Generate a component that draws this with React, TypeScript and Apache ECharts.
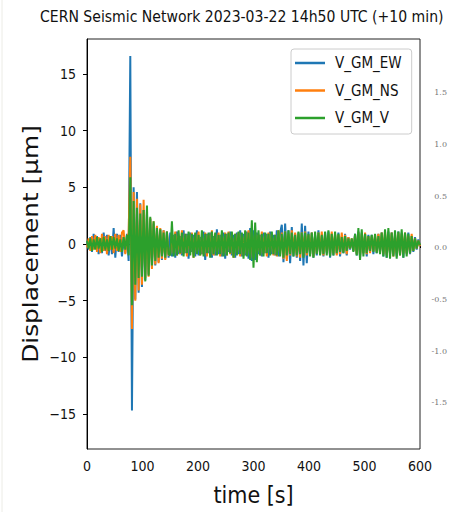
import React, { useEffect, useRef } from 'react';
import * as echarts from 'echarts';

const TITLE = 'CERN Seismic Network 2023-03-22 14h50 UTC (+10 min)';
const X_LABEL = 'time [s]';
const Y_LABEL = 'Displacement [μm]';
const SERIES_NAMES = ['V_GM_EW', 'V_GM_NS', 'V_GM_V'];
const COLORS = ['#1f77b4', '#ff7f0e', '#2ca02c'];
const SAMPLE_STEP_S = 3; // one reading every 3 s
const X_MIN = 0;
const X_MAX = 600;
const X_INTERVAL = 100;
const Y_MIN = -18.1;
const Y_MAX = 18.1;
// tick labels of the neighbouring (clipped) panel on the right
const SIDE_MIN = -2;
const SIDE_MAX = 2;
const SIDE_INTERVAL = 0.5;

const ew = [
  0.2, -0.5, 0.6, -0.7, 0.9, -0.4, 0.7, -0.9, 0.5, -0.8, 1.0, -0.6, 0.8, -1.0, 0.6, -0.9, 1.4, -1.2, 0.9, -0.7, 0.8, -1.1, 0.6, -0.8, 0.9,
  -1.5, 16.6, -14.7, 5.0, -4.9, 4.6, -4.3, 3.6, -3.8, 3.0, -3.2, 2.6, -2.7, 2.2, -2.1, 1.8, -1.9, 1.5, -1.6, 1.3, -1.4, 1.2, -1.3, 1.1, -1.2,
  1.0, -1.1, 0.8, -1.2, 1.1, -0.9, 0.7, -1.0, 1.2, -0.8,
  0.9, -1.3, 1.0, -0.7, 0.8, -1.1, 1.2, -1.0, 0.6, -0.9,
  1.1, -1.4, 0.9, -0.8, 1.0, -1.2, 0.7, -1.0, 1.3, -0.9,
  0.8, -1.1, 1.0, -1.3, 0.9, -0.7, 1.1, -1.0, 0.8, -1.2,
  1.0, -0.9, 1.2, -1.1, 0.9, -1.0, 1.1, -1.3, 1.4, -1.5,
  1.2, -1.4, 1.0, -0.9, 0.8, -1.1, 1.0, -0.8, 0.9, -1.2, 1.1, -0.9, 0.8, -1.0, 1.2, -1.1, 1.0,
  1.7, -1.6, 1.8, -1.3, 1.2, -1.7, 1.5, -1.1, 0.9, -1.2, 1.0, -1.5, 1.8, -1.9, 1.6, -1.7,
  1.1, -0.9, 1.0, -1.2, 0.8, -1.0, 1.2, -0.9, 0.7, -1.1, 1.0, -0.8, 1.1, -1.2, 0.9, -1.0, 0.8, -0.9, 1.0, -1.1, 0.7, -0.8, 0.9, -1.0, 0.6,
  -0.5, 0.4, -0.6,
  0.9, -1.0, 1.1, -1.2, 1.0, -0.8, 0.9, -1.1, 0.8, -0.7,
  0.8, -0.9, 0.7, -0.8, 0.9, -0.7,
  1.0, -1.1, 0.9, -1.2, 1.1, -0.9, 1.0, -1.0, 0.8, -1.1, 1.1, -0.9, 1.0, -1.2, 0.9, -0.8, 1.0, -0.9, 0.7,
  -0.7, 0.6, -0.5, 0.4, -0.2,
];

const ns = [
  -0.3, 0.5, -0.6, 0.7, -0.5, 0.8, -0.7, 0.6, -0.8, 0.9, -0.6, 0.7, -0.9, 0.8, -0.5, 0.7, -0.8, 0.9, -0.6, 0.8, -0.7, 1.0, 1.2, -0.9, 0.7,
  0.9, 7.7, -7.5, 4.6, -5.0, 4.0, -4.1, 3.5, -3.6, 3.9, -3.0, 2.8, -2.9, 2.3, -2.2, 2.0, -1.8, 1.6, -1.7, 1.4, -1.3, 1.2, -1.4, 1.1, -1.0,
  -0.9, 1.0, -0.8, 1.1, -1.0, 0.7, -0.9, 1.2, -0.8, 0.9,
  -1.1, 0.8, -0.7, 1.0, -1.2, 0.9, -0.8, 1.1, -1.0, 0.7,
  -0.9, 1.0, -1.1, 0.8, -0.9, 1.2, -1.0, 0.8, -0.7, 1.0,
  -1.1, 0.9, -0.8, 1.0, -1.0, 1.1, -0.9, 0.8, -1.2, 0.9,
  -0.8, 1.0, -1.1, 0.9, -1.0, 1.1, -0.9, 1.2, -1.3, 1.1,
  -1.2, 1.0, -0.9, 0.8, -1.0, 1.1, -0.8, 0.9, -1.1, 1.0,
  -0.7, 0.9, -1.0, 0.8, -1.1, 1.2, -0.9, 1.0, -1.3, 1.1,
  -1.5, 0.9, -1.0, 1.2, -0.8, 1.0, -1.1, 0.9, -1.2, 1.0,
  -0.9, 1.1, -1.0, 0.8, -0.9, 1.0, -1.1, 0.7, -0.8, 1.0,
  -0.9, 1.1, -1.0, 0.8, -0.7, 0.9, -1.0, 1.1, -0.8, 0.9,
  -1.0, 0.8, -0.9, 1.0, -0.7, 0.8, -0.9, 0.6, -0.4, 0.5,
  -0.6, 0.8, -0.9, 1.0, -1.1, 0.9, -0.8, 1.0, -0.9, 0.7,
  -0.8, 0.7, -0.6, 0.8, -0.7, 0.9, -0.8, 1.0, -0.9, 1.1,
  -1.0, 0.8, -0.9, 1.0, -1.1, 0.9, -0.8, 1.0, -1.0, 0.9,
  -0.8, 1.0, -0.9, 0.7, -0.8, 0.9, -0.6, 0.5, -0.4, 0.3,
  -0.2,
];

const vert = [
  0.3, -0.4, 0.5, -0.6, 0.4, -0.5, 0.6, -0.4, 0.5, -0.7, 0.6, -0.5, 0.4, -0.6, 0.7, -0.5, 0.6, -0.4, 0.5, -0.6, 0.4, -0.7, 0.6, -0.5, 0.8,
  -1.0, 5.9, -5.4, 3.8, -3.6, 3.2, -3.0, 2.7, -2.9, 3.0, -3.3, 3.4, -2.8, 2.4, -1.9, 2.0, -1.5, 1.4, -1.2, 1.3, -1.1, 1.0, -1.2, 1.1, -0.9,
  -1.0, 2.0, -1.1, 0.9, -1.0, 1.2, -0.8, 1.0, -1.1, 0.9,
  -0.8, 1.1, -1.0, 0.9, -1.2, 1.0, -0.9, 0.8, -1.0, 1.2,
  -1.1, 0.9, -0.8, 1.0, -1.2, 1.1, -0.9, 1.0, -1.0, 0.8,
  -0.9, 1.2, -1.1, 0.9, -1.0, 1.0, -0.8, 1.1, -1.2, 0.9,
  -1.0, 1.1, -0.9, 1.0, -1.3, 1.2, -1.1, 1.0, -1.4, 2.1,
  -2.1, 1.9, -1.6, 1.2, -1.0, 0.9, -1.1, 1.0, -0.8, 0.9,
  -1.0, 1.1, -0.9, 0.8, -1.0, 1.2, -1.1, 0.9, -1.2, 1.1,
  -1.0, 1.2, -0.9, 1.0, -1.1, 0.8, -1.0, 1.1, -0.9, 1.0,
  -1.2, 1.0, -0.8, 0.9, -1.1, 1.0, -1.2, 1.1, -0.9, 1.0,
  -1.0, 0.8, -0.9, 1.1, -1.0, 1.2, -1.1, 0.9, -1.0, 1.1,
  -0.8, 0.9, -0.7, 0.6, -0.8, 0.7, -0.6, 0.5, -0.4, 0.5,
  -0.7, 0.9, -1.0, 1.4, -1.4, 1.3, -1.1, 0.9, -0.8, 0.7,
  -0.6, 0.8, -0.7, 0.9, -0.8, 0.7, -0.9, 1.0, -1.1, 1.3,
  -1.2, 1.4, -1.3, 1.0, -1.1, 1.2, -1.3, 1.1, -1.0, 1.3,
  -1.2, 1.0, -1.1, 0.9, -0.8, 0.7, -0.6, 0.5, -0.4, 0.3,
  -0.1,
];

const SERIES_VALUES = [ew, ns, vert];

const COND = '"DejaVu Sans Condensed", "DejaVu Sans", sans-serif';
const INK = '#111111';

const minusFmt = (v: number) => (v < 0 ? '\u2212' + Math.abs(v) : String(v));

export default function App() {
  const ref = useRef<HTMLDivElement>(null);
  useEffect(() => {
    if (!ref.current) return;
    const chart = echarts.init(ref.current, undefined, { renderer: 'svg' });
    const series = SERIES_NAMES.map((name, k) => ({
      name,
      type: 'line',
      xAxisIndex: 0,
      yAxisIndex: 0,
      data: SERIES_VALUES[k].map((v, i) => [i * SAMPLE_STEP_S, v]),
      showSymbol: false,
      symbol: 'none',
      lineStyle: { color: COLORS[k], width: 2 },
      itemStyle: { color: COLORS[k] },
      emphasis: { disabled: true },
    }));
    chart.setOption({
      animation: false,
      backgroundColor: '#ffffff',
      title: {
        text: TITLE,
        left: 40,
        top: 9,
        padding: 0,
        textStyle: { fontFamily: COND, fontSize: 15.6, fontWeight: 'normal', color: INK },
      },
      legend: {
        data: SERIES_NAMES,
        orient: 'vertical',
        left: 291,
        top: 49,
        icon: 'rect',
        itemWidth: 30,
        itemHeight: 2.5,
        itemGap: 11.5,
        padding: [6, 10, 8, 4],
        backgroundColor: 'rgba(255,255,255,0.85)',
        borderColor: '#cccccc',
        borderWidth: 1,
        borderRadius: 3,
        textStyle: { fontFamily: COND, fontSize: 15, color: INK, lineHeight: 16, padding: [0, 0, 0, 5] },
      },
      grid: [
        { left: 87, right: 29, top: 39, bottom: 63, show: true, borderColor: '#222222', borderWidth: 1 },
        { left: 449, width: 1, top: 41.3, height: 413.3 },
      ],
      xAxis: [
        {
          type: 'value',
          gridIndex: 0,
          min: X_MIN,
          max: X_MAX,
          interval: X_INTERVAL,
          name: X_LABEL,
          nameLocation: 'middle',
          nameGap: 34,
          nameTextStyle: { fontFamily: COND, fontSize: 23, color: INK },
          axisLine: { show: true, lineStyle: { color: '#000', width: 1 } },
          axisTick: { show: true, inside: false, length: 4, lineStyle: { color: '#000' } },
          axisLabel: { fontFamily: COND, fontSize: 14, color: INK, margin: 10 },
          splitLine: { show: false },
        },
        { type: 'value', gridIndex: 1, show: false },
      ],
      yAxis: [
        {
          type: 'value',
          gridIndex: 0,
          min: Y_MIN,
          max: Y_MAX,
          splitNumber: 7,
          axisLine: { show: true, lineStyle: { color: '#000', width: 1 } },
          axisTick: { show: true, inside: false, length: 4, lineStyle: { color: '#000' } },
          axisLabel: {
            fontFamily: COND,
            fontSize: 14,
            color: INK,
            margin: 11,
            showMinLabel: false,
            showMaxLabel: false,
            formatter: minusFmt,
          },
          splitLine: { show: false },
        },
        {
          type: 'value',
          gridIndex: 1,
          min: SIDE_MIN,
          max: SIDE_MAX,
          interval: SIDE_INTERVAL,
          position: 'left',
          axisLine: { show: false },
          axisTick: { show: false },
          splitLine: { show: false },
          axisLabel: {
            margin: 2,
            fontFamily: '"DejaVu Serif", serif',
            fontSize: 8,
            color: '#777777',
            formatter: (v: number) => (Math.abs(v) > 1.6 ? '' : v.toFixed(1)),
          },
        },
      ],
      graphic: [
        {
          type: 'line',
          shape: { x1: 2, y1: 0, x2: 2, y2: 512 },
          style: { stroke: '#ecece6', lineWidth: 1 },
          silent: true,
        },
        {
          type: 'text',
          x: 31,
          y: 244,
          rotation: Math.PI / 2,
          scaleX: 1.21,
          scaleY: 1,
          style: {
            text: Y_LABEL,
            fontFamily: '"DejaVu Sans", sans-serif',
            fontSize: 20.5,
            fill: INK,
            textAlign: 'center',
            textVerticalAlign: 'middle',
          },
          silent: true,
        },
      ],
      series,
    });
    return () => chart.dispose();
  }, []);
  return (
    <div
      ref={ref}
      style={{ position: 'fixed', left: 0, top: 0, width: 449, height: 512, background: '#fff' }}
    />
  );
}
